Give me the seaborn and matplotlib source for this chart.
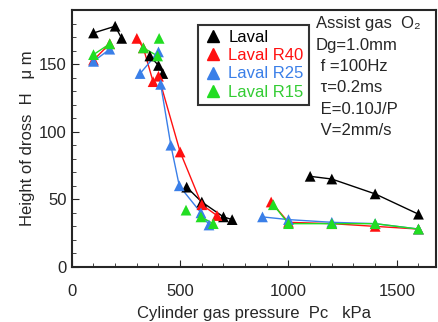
import pandas as pd
import matplotlib.pyplot as plt
import matplotlib.lines as mlines
import seaborn as sns

# values (kPa, um); seg = connected run of points
laval_x = [100, 200, 230, 360, 400, 420, 530, 600, 700, 740, 1100, 1200, 1400, 1600]
laval_y = [173, 178, 169, 156, 149, 143, 59, 48, 37, 35, 67, 65, 54, 39]
laval_seg = [1, 1, 1, 2, 2, 2, 3, 3, 3, 3, 4, 4, 4, 4]

r40_x = [100, 175, 300, 330, 375, 400, 500, 600, 670, 920, 1000, 1200, 1400, 1600]
r40_y = [153, 165, 169, 162, 137, 141, 85, 46, 38, 48, 33, 32, 30, 28]
r40_seg = [1, 1, 2, 2, 2, 3, 3, 3, 3, 4, 4, 4, 4, 4]

r25_x = [100, 175, 315, 400, 410, 457, 496, 596, 633, 880, 1000, 1200, 1400, 1600]
r25_y = [152, 161, 143, 159, 135, 90, 60, 40, 31, 37, 35, 33, 32, 28]
r25_seg = [1, 1, 2, 2, 3, 3, 3, 3, 3, 4, 4, 4, 4, 4]

r15_x = [100, 175, 330, 396, 403, 527, 596, 653, 930, 1000, 1200, 1400, 1600]
r15_y = [157, 165, 162, 156, 169, 42, 37, 32, 46, 32, 32, 32, 28]
r15_seg = [1, 1, 2, 2, 3, 4, 5, 5, 6, 6, 6, 6, 6]

names = ['Laval', 'Laval R40', 'Laval R25', 'Laval R15']
colors = ['black', '#ff1010', '#3a7fe8', '#22dd22']
text_colors = ['black', '#ff1010', '#3a7fe8', '#33cc33']

frames = []
for name, xs, ys, segs in zip(names, [laval_x, r40_x, r25_x, r15_x],
                              [laval_y, r40_y, r25_y, r15_y],
                              [laval_seg, r40_seg, r25_seg, r15_seg]):
    frames.append(pd.DataFrame({'Pc': xs, 'H': ys, 'seg': segs, 'series': name}))
df = pd.concat(frames, ignore_index=True)

sns.set_style('ticks')
plt.rcParams['font.family'] = ['Liberation Sans', 'DejaVu Sans']

fig = plt.figure(figsize=(4.38, 3.22), dpi=100)
ax = fig.add_axes([0.164, 0.171, 0.831, 0.798])

for name, c in zip(names, colors):
    sub = df[df['series'] == name]
    sns.lineplot(data=sub, x='Pc', y='H', units='seg', estimator=None, sort=False,
                 color=c, lw=1.0, ax=ax)
    sns.scatterplot(data=sub, x='Pc', y='H', marker='^', s=60, color=c,
                    edgecolor='none', ax=ax, zorder=3)

ax.set_xlim(0, 1680)
ax.set_ylim(0, 190)
ax.set_xticks([0, 500, 1000, 1500])
ax.set_yticks([0, 50, 100, 150])
ax.set_xticks(range(0, 1700, 100), minor=True)
ax.set_yticks(range(0, 190, 10), minor=True)
ax.tick_params(direction='in', which='both', labelsize=12, top=False, right=False)
ax.tick_params(which='major', length=5)
ax.tick_params(which='minor', length=3)
ax.tick_params(axis='x', which='major', pad=12)
for sp in ax.spines.values():
    sp.set_linewidth(1.5)
    sp.set_visible(True)
ax.set_xlabel('Cylinder gas pressure  Pc   kPa', fontsize=12, labelpad=5)
ax.set_ylabel('Height of dross  H   \u03bc m', fontsize=12, labelpad=3)

handles = [mlines.Line2D([], [], color=c, marker='^', ls='none', markersize=8)
           for c in colors]
leg = ax.legend(handles, names, loc='upper left', bbox_to_anchor=(0.325, 0.975),
                fontsize=12, frameon=True, fancybox=False, handletextpad=0.3,
                handlelength=1.2, borderpad=0.3, labelspacing=0.2)
leg.get_frame().set_edgecolor('black')
leg.get_frame().set_linewidth(1.5)
for t, c in zip(leg.get_texts(), text_colors):
    t.set_color(c)

info = ['Assist gas  O\u2082', 'Dg=1.0mm', ' f =100Hz', ' \u03c4=0.2ms',
        ' E=0.10J/P', ' V=2mm/s']
for i, line in enumerate(info):
    ax.text(0.67, 0.975 - i * 0.083, line, transform=ax.transAxes,
            fontsize=12, va='top', ha='left')

fig.savefig('out.png', dpi=100)
